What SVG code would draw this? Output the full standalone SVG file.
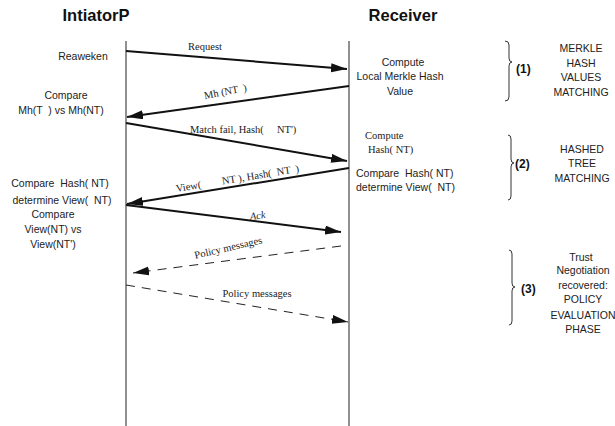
<svg xmlns="http://www.w3.org/2000/svg" width="615" height="426" viewBox="0 0 615 426">
<style>
.s{font-family:"Liberation Sans",Arial,sans-serif;font-size:10.5px;fill:#222;white-space:pre}
.h{font-family:"Liberation Sans",Arial,sans-serif;font-size:16.5px;font-weight:bold;fill:#111}
.b{font-family:"Liberation Sans",Arial,sans-serif;font-size:12px;font-weight:bold;fill:#111}
.r{font-family:"Liberation Serif","Times New Roman",serif;font-size:10.5px;fill:#222;white-space:pre}
.life{stroke:#555;stroke-width:1.3;fill:none}
.msg{stroke:#111;stroke-width:2;fill:none}
.dash{stroke:#222;stroke-width:1;fill:none;stroke-dasharray:9 7}
.brace{stroke:#333;stroke-width:1;fill:none}
</style>
<defs>
<marker id="ah" markerUnits="userSpaceOnUse" markerWidth="17" markerHeight="10" refX="16" refY="4.5" orient="auto">
<path d="M0,0 L16,4.5 L0,9 z" fill="#111"/>
</marker>
</defs>
<g id="headers">
<text class="h" x="96" y="21" text-anchor="middle">IntiatorP</text>
<text class="h" x="403" y="21" text-anchor="middle">Receiver</text>
</g>
<g id="lifelines">
<line class="life" x1="126" y1="41" x2="126" y2="426"/>
<line class="life" x1="349" y1="41" x2="349" y2="426"/>
</g>
<g id="connectors">
<line class="msg" x1="126" y1="51" x2="347" y2="69" marker-end="url(#ah)"/>
<line class="msg" x1="349" y1="86" x2="127" y2="117" marker-end="url(#ah)"/>
<line class="msg" x1="126" y1="123" x2="347" y2="161" marker-end="url(#ah)"/>
<line class="msg" x1="349" y1="168" x2="127" y2="204" marker-end="url(#ah)"/>
<line class="msg" x1="126" y1="205" x2="341" y2="232" marker-end="url(#ah)"/>
<line class="dash" x1="341" y1="246" x2="133" y2="273" marker-end="url(#ah)"/>
<line class="dash" x1="126" y1="285" x2="348" y2="322" marker-end="url(#ah)"/>
<text class="r" x="205" y="50" text-anchor="middle">Request</text>
<text class="r" x="226" y="95" text-anchor="middle" transform="rotate(-11 226 95)">Mh (NT  )</text>
<text class="r" x="190" y="133">Match fail, Hash(     NT')</text>
<text class="r" x="238" y="182" text-anchor="middle" transform="rotate(-9.3 238 182)">View(        NT ), Hash(  NT  )</text>
<text class="r" x="258" y="219" text-anchor="middle" font-style="italic" transform="rotate(-7 258 219)">Ack</text>
<text class="r" x="229" y="251" text-anchor="middle" transform="rotate(-13 229 251)">Policy messages</text>
<text class="r" x="257" y="297" text-anchor="middle">Policy messages</text>
</g>
<g id="initiator-notes">
<text class="s" x="83" y="60" text-anchor="middle">Reaweken</text>
<text class="s" x="66" y="99" text-anchor="middle">Compare</text>
<text class="s" x="61" y="114" text-anchor="middle">Mh(T  ) vs Mh(NT)</text>
<text class="s" x="60" y="187" text-anchor="middle">Compare  Hash( NT)</text>
<text class="s" x="62" y="204" text-anchor="middle">determine View(  NT)</text>
<text class="s" x="53" y="218" text-anchor="middle">Compare</text>
<text class="s" x="53" y="233" text-anchor="middle">View(NT) vs</text>
<text class="s" x="53" y="248" text-anchor="middle">View(NT')</text>
</g>
<g id="receiver-notes">
<text class="s" x="403" y="66" text-anchor="middle">Compute</text>
<text class="s" x="400" y="80" text-anchor="middle">Local Merkle Hash</text>
<text class="s" x="400" y="95" text-anchor="middle">Value</text>
<text class="r" x="365" y="139">Compute</text>
<text class="r" x="368" y="153">Hash( NT)</text>
<text class="s" x="356" y="177">Compare  Hash( NT)</text>
<text class="s" x="356" y="191">determine View(  NT)</text>
</g>
<g id="phase1">
<path class="brace" d="M505,41 Q509,41 509,45 L509,58 Q509,62 512,62 Q509,62 509,66 L509,97 Q509,101 505,101"/>
<text class="b" x="516" y="73">(1)</text>
<text class="s" x="581" y="52" text-anchor="middle">MERKLE</text>
<text class="s" x="581" y="67" text-anchor="middle">HASH</text>
<text class="s" x="581" y="81" text-anchor="middle">VALUES</text>
<text class="s" x="581" y="96" text-anchor="middle">MATCHING</text>
</g>
<g id="phase2">
<path class="brace" d="M508,135 Q511,135 511,139 L511,159 Q511,163 514,163 Q511,163 511,167 L511,196 Q511,200 508,200"/>
<text class="b" x="515" y="168">(2)</text>
<text class="s" x="582" y="153" text-anchor="middle">HASHED</text>
<text class="s" x="582" y="167" text-anchor="middle">TREE</text>
<text class="s" x="582" y="182" text-anchor="middle">MATCHING</text>
</g>
<g id="phase3">
<path class="brace" d="M509,250 Q512,250 512,254 L512,283 Q512,287 515,287 Q512,287 512,291 L512,321 Q512,325 509,325"/>
<text class="b" x="521" y="293">(3)</text>
<text class="s" x="581" y="261" text-anchor="middle">Trust</text>
<text class="s" x="583" y="274" text-anchor="middle">Negotiation</text>
<text class="s" x="583" y="289" text-anchor="middle">recovered:</text>
<text class="s" x="583" y="303" text-anchor="middle">POLICY</text>
<text class="s" x="583" y="319" text-anchor="middle">EVALUATION</text>
<text class="s" x="583" y="333" text-anchor="middle">PHASE</text>
</g>
</svg>
